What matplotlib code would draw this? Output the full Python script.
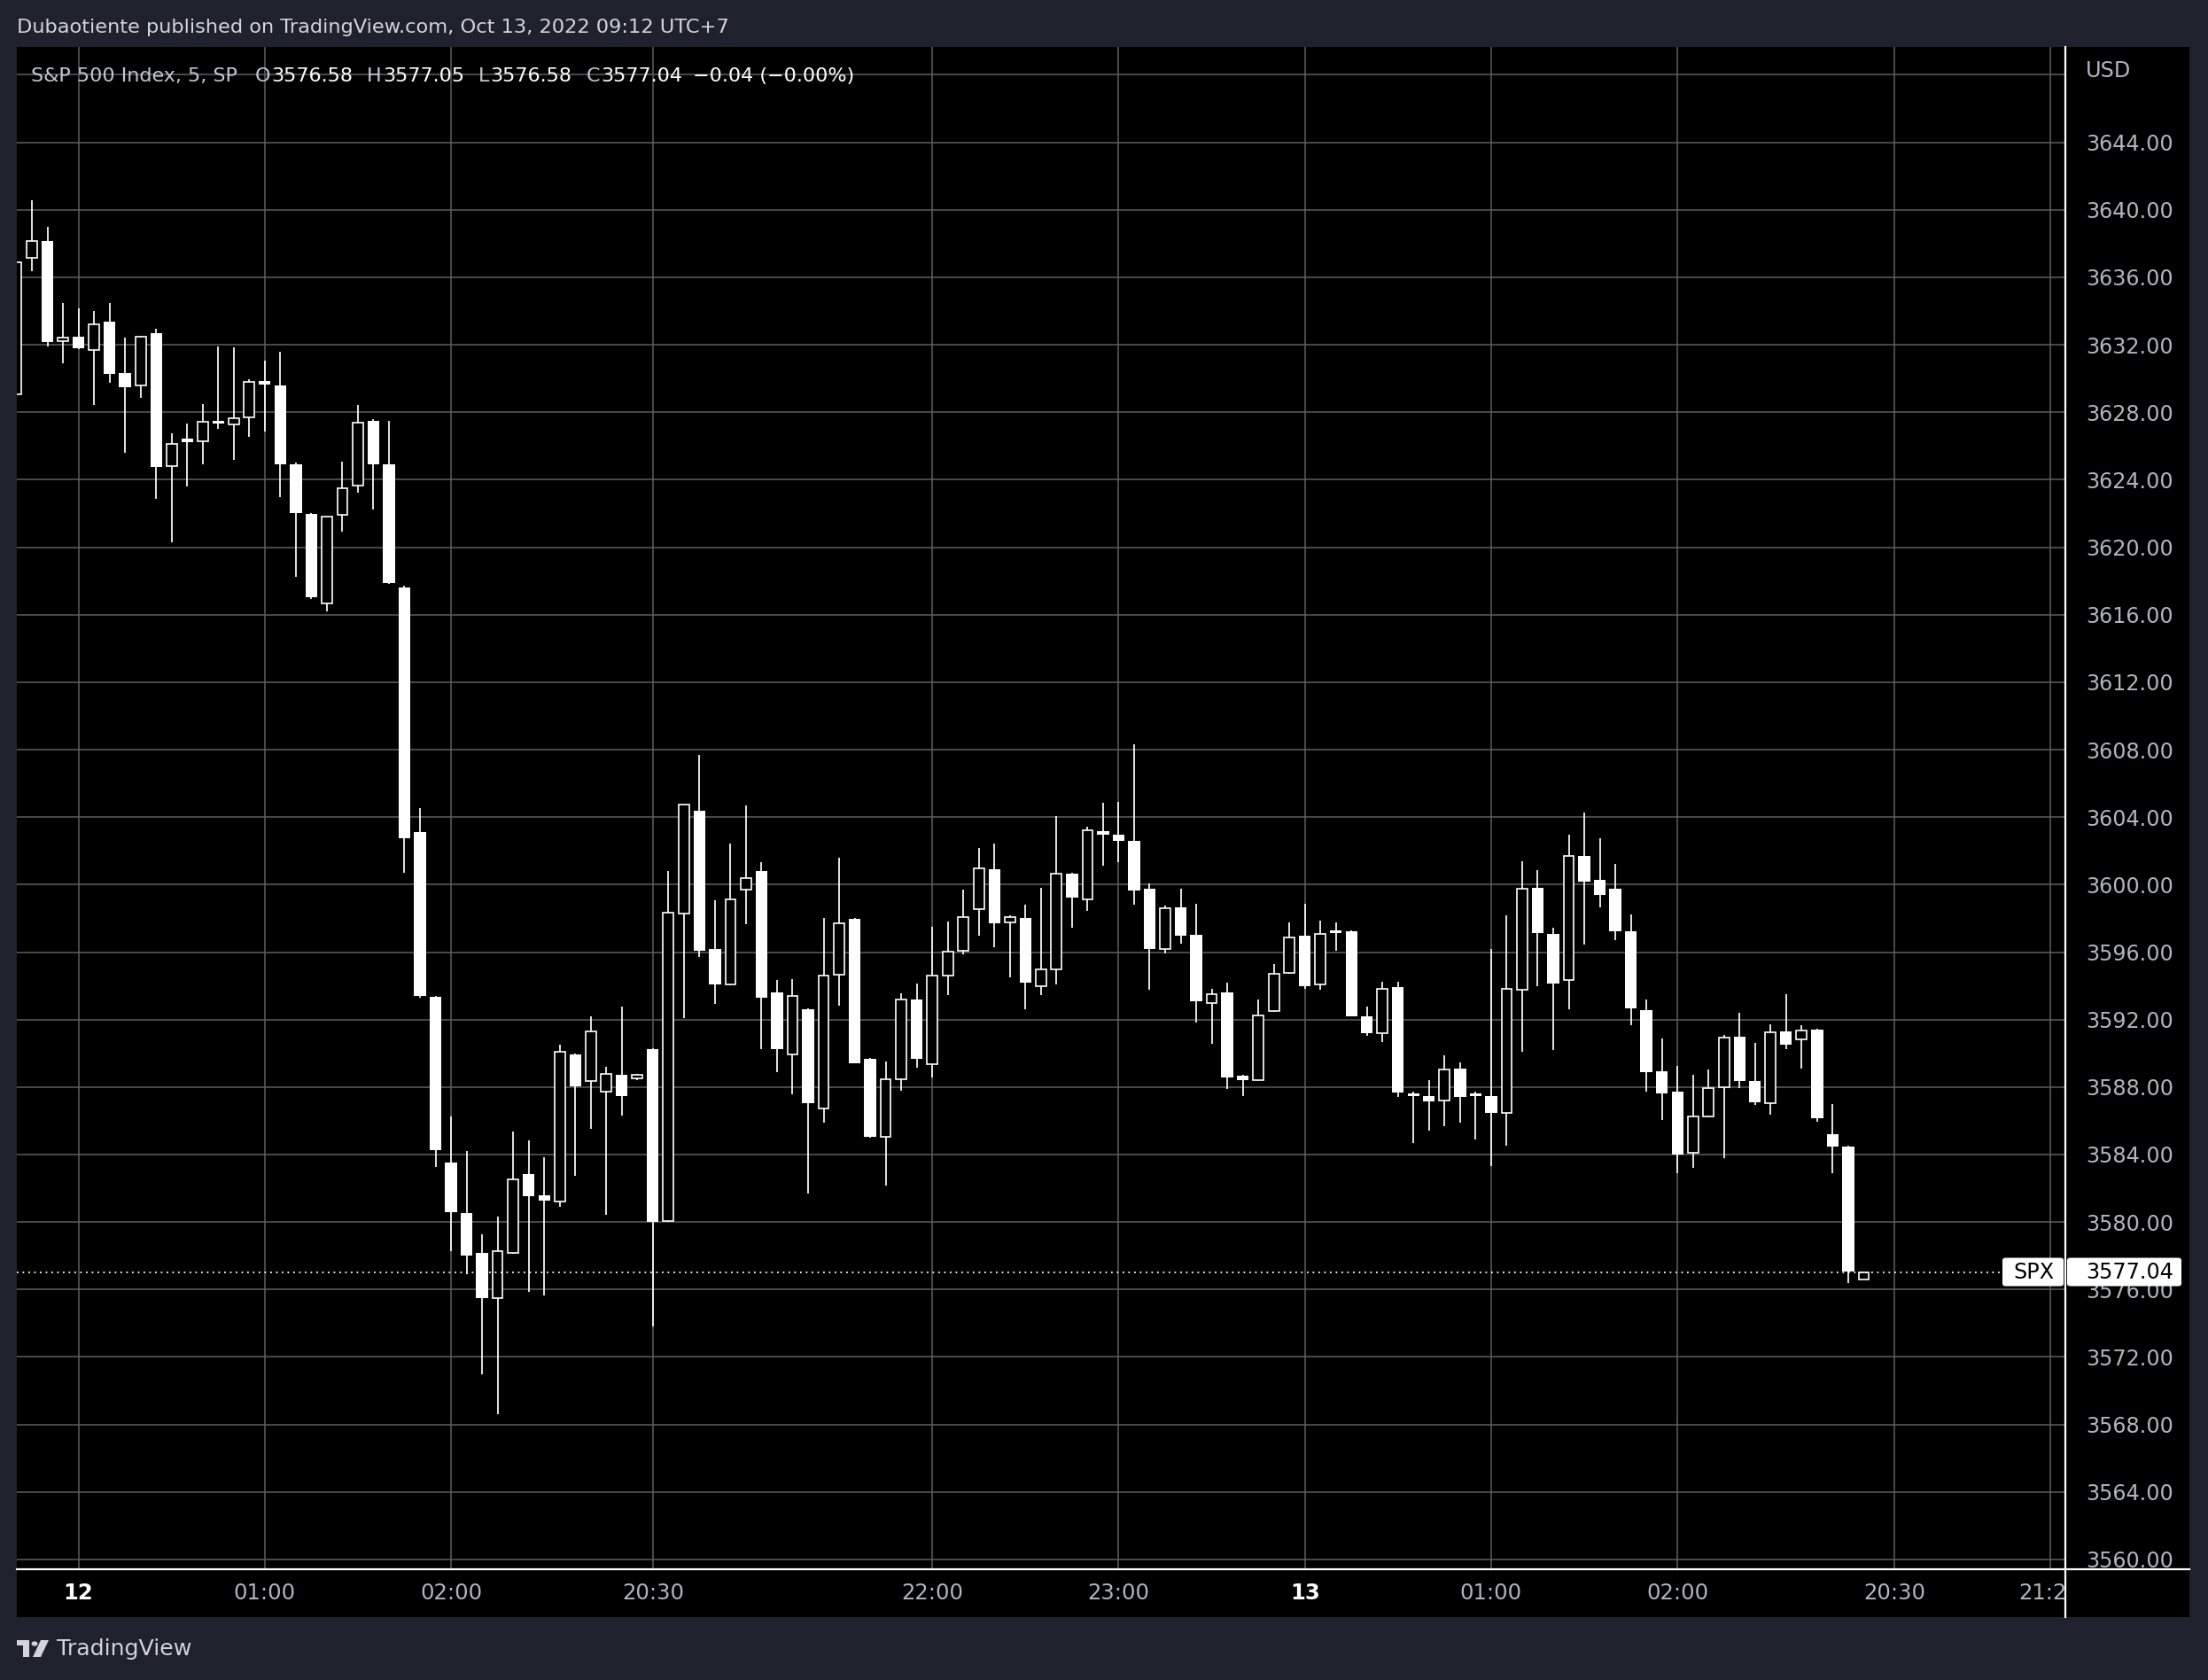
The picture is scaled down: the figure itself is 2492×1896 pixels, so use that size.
import matplotlib
matplotlib.use('Agg')
import matplotlib.pyplot as plt
import numpy as np
from matplotlib.patches import Rectangle, FancyBboxPatch, Circle, Polygon
from matplotlib.lines import Line2D
from matplotlib.transforms import Bbox, TransformedBbox

# SPX 5-minute bars, index -1 is the bar cut off at the left edge
idx = list(range(-1, 119))
opens = [3629.06, 3637.15, 3638.13, 3632.21, 3632.45, 3631.68, 3633.35, 3630.30, 3629.57, 3632.66,
         3624.82, 3626.41, 3626.29, 3627.48, 3627.27, 3627.69, 3629.85, 3629.58, 3624.91, 3621.97,
         3616.66, 3621.91, 3623.63, 3627.48, 3624.91, 3617.62, 3603.12, 3593.36, 3583.54, 3580.55,
         3578.18, 3575.47, 3578.16, 3582.85, 3581.58, 3581.19, 3589.94, 3588.35, 3587.72, 3588.74,
         3588.52, 3590.26, 3580.06, 3598.31, 3604.37, 3596.16, 3594.10, 3599.68, 3600.79, 3593.59,
         3589.94, 3592.60, 3586.73, 3594.68, 3597.95, 3589.66, 3585.05, 3588.44, 3593.17, 3589.37,
         3594.59, 3596.09, 3598.53, 3600.90, 3597.74, 3598.01, 3594.00, 3594.96, 3600.67, 3599.11,
         3603.15, 3602.95, 3602.58, 3599.75, 3596.20, 3598.67, 3597.05, 3593.00, 3593.63, 3588.66,
         3588.39, 3592.49, 3594.75, 3596.97, 3594.06, 3597.22, 3597.22, 3592.21, 3591.18, 3593.90,
         3587.62, 3587.47, 3587.19, 3589.08, 3587.52, 3587.47, 3586.46, 3593.75, 3599.82, 3597.07,
         3594.33, 3601.68, 3600.26, 3599.75, 3597.22, 3592.55, 3588.93, 3587.71, 3584.09, 3586.27,
         3587.99, 3591.01, 3588.37, 3587.06, 3591.32, 3590.84, 3591.42, 3585.23, 3584.48, 3576.58]
highs = [3637.00, 3640.56, 3638.98, 3634.45, 3634.15, 3634.00, 3634.45, 3632.40, 3632.55, 3632.96,
         3626.73, 3627.31, 3628.48, 3631.89, 3631.82, 3629.93, 3631.04, 3631.56, 3625.00, 3622.00,
         3621.80, 3625.07, 3628.43, 3627.60, 3627.48, 3617.70, 3604.54, 3593.40, 3586.27, 3584.22,
         3579.28, 3580.31, 3585.37, 3584.86, 3583.85, 3590.53, 3590.00, 3592.19, 3589.21, 3592.78,
         3588.80, 3590.30, 3600.82, 3604.72, 3607.69, 3599.06, 3602.42, 3604.68, 3601.32, 3594.32,
         3594.39, 3592.65, 3598.00, 3601.58, 3598.00, 3589.70, 3589.54, 3593.55, 3594.13, 3597.49,
         3597.80, 3599.68, 3602.16, 3602.42, 3598.20, 3598.80, 3599.80, 3604.05, 3600.70, 3603.41,
         3604.84, 3604.91, 3608.31, 3600.05, 3598.78, 3599.75, 3598.86, 3593.84, 3594.21, 3588.73,
         3593.17, 3595.27, 3597.78, 3598.86, 3597.84, 3597.78, 3597.30, 3592.76, 3594.22, 3594.22,
         3587.71, 3588.41, 3589.87, 3589.46, 3587.71, 3596.17, 3598.16, 3601.38, 3600.87, 3597.46,
         3602.96, 3604.25, 3602.73, 3601.21, 3598.23, 3593.19, 3590.88, 3589.25, 3588.72, 3589.03,
         3591.11, 3592.42, 3590.63, 3591.73, 3593.52, 3591.69, 3591.45, 3587.01, 3584.50, 3577.05]
lows = [3629.00, 3636.38, 3631.91, 3630.90, 3631.75, 3628.44, 3629.72, 3625.61, 3628.83, 3622.84,
        3620.27, 3623.61, 3624.89, 3626.99, 3625.15, 3626.52, 3626.87, 3622.98, 3618.26, 3616.95,
        3616.22, 3620.92, 3623.25, 3622.26, 3617.80, 3600.68, 3593.27, 3583.27, 3578.28, 3576.89,
        3570.99, 3568.62, 3578.10, 3575.88, 3575.66, 3580.92, 3582.75, 3585.54, 3580.43, 3586.32,
        3588.43, 3573.83, 3580.00, 3592.09, 3595.72, 3592.93, 3594.05, 3597.67, 3590.27, 3588.90,
        3587.55, 3581.67, 3585.87, 3592.80, 3589.40, 3585.00, 3582.18, 3587.77, 3589.17, 3588.59,
        3593.46, 3595.87, 3596.98, 3596.29, 3594.52, 3592.63, 3593.46, 3594.09, 3597.43, 3598.45,
        3601.10, 3601.33, 3598.80, 3593.77, 3595.93, 3596.51, 3591.84, 3590.58, 3587.90, 3587.44,
        3588.35, 3592.45, 3594.70, 3593.84, 3593.77, 3596.09, 3592.20, 3591.05, 3590.66, 3587.43,
        3584.69, 3585.41, 3585.69, 3585.91, 3584.88, 3583.30, 3584.50, 3590.07, 3593.99, 3590.21,
        3592.62, 3596.45, 3598.66, 3596.69, 3591.69, 3587.75, 3586.06, 3582.91, 3583.23, 3586.20,
        3583.81, 3587.95, 3586.95, 3586.35, 3590.26, 3589.07, 3585.93, 3582.92, 3576.41, 3576.58]
closes = [3636.90, 3638.16, 3632.17, 3632.44, 3631.81, 3633.22, 3630.25, 3629.50, 3632.49, 3624.73,
          3626.13, 3626.20, 3627.45, 3627.31, 3627.66, 3629.78, 3629.62, 3624.89, 3622.00, 3617.01,
          3621.79, 3623.51, 3627.39, 3624.89, 3617.89, 3602.74, 3593.39, 3584.24, 3580.58, 3578.03,
          3575.49, 3578.28, 3582.51, 3581.53, 3581.26, 3590.11, 3588.06, 3591.29, 3588.77, 3587.45,
          3588.74, 3579.99, 3598.33, 3604.72, 3596.07, 3594.08, 3599.15, 3600.41, 3593.28, 3590.27,
          3593.42, 3587.02, 3594.61, 3597.73, 3589.43, 3585.03, 3588.46, 3593.19, 3589.66, 3594.61,
          3596.03, 3598.09, 3600.94, 3597.71, 3598.05, 3594.19, 3595.00, 3600.67, 3599.24, 3603.22,
          3602.95, 3602.60, 3599.67, 3596.20, 3598.61, 3596.99, 3593.07, 3593.50, 3588.58, 3588.39,
          3592.26, 3594.69, 3596.87, 3593.98, 3597.08, 3597.15, 3592.21, 3591.20, 3593.84, 3587.65,
          3587.44, 3587.13, 3589.06, 3587.43, 3587.48, 3586.49, 3593.84, 3599.77, 3597.14, 3594.14,
          3601.72, 3600.18, 3599.39, 3597.22, 3592.68, 3588.89, 3587.62, 3584.00, 3586.24, 3587.93,
          3590.92, 3588.35, 3587.08, 3591.24, 3590.49, 3591.36, 3586.14, 3584.46, 3577.08, 3577.04]

price_ticks = list(range(3644, 3559, -4))
grid_prices = list(range(3560, 3649, 4))
time_pos = [3, 15, 27, 40, 58, 70, 82, 94, 106, 120]
time_labels = ['12', '01:00', '02:00', '20:30', '22:00', '23:00', '13', '01:00', '02:00', '20:30']
cut_pos, cut_label = 130, '21:20'
day_labels = ['12', '13']

W, H = 2492, 1896
bg = '#1e222d'
grid_c = '#5f5f5f'
txt_c = '#b2b5be'
fs_scale = 17.2
fs_time = 17.5


def fx(px):
    return px / W


def fy(py):
    return 1 - py / H


fig = plt.figure(figsize=(W / 100, H / 100), dpi=100, facecolor=bg)

# black chart panel (plot + both scales)
fig.patches.append(Rectangle((fx(19), fy(1825)), fx(2471) - fx(19), fy(53) - fy(1825),
                             transform=fig.transFigure, facecolor='black', edgecolor='none', zorder=-1))

ax_h = 1771 - 53
ax = fig.add_axes([fx(19), fy(1771), fx(2331) - fx(19), fy(53) - fy(1771)])
ax.set_facecolor('black')
ax.set_xlim(-0.97, 130.99)
ax.set_ylim(3559.42, 3649.65)
for s in ax.spines.values():
    s.set_visible(False)

for p in grid_prices:
    ax.axhline(p, color=grid_c, lw=1.1, zorder=1)
for k in time_pos + [cut_pos]:
    ax.axvline(k, color=grid_c, lw=1.1, zorder=1)

x = np.array(idx)
o = np.array(opens); h = np.array(highs); l = np.array(lows); c = np.array(closes)
up = c >= o
bot = np.minimum(o, c)
bh = np.maximum(np.abs(c - o), 0.15)

ax.vlines(x, l, h, color='white', lw=1.25, zorder=2)
ax.bar(x[~up], bh[~up], bottom=bot[~up], width=0.76, color='white', linewidth=0, zorder=3)
ax.bar(x[up], bh[up], bottom=bot[up], width=0.67, facecolor='black', edgecolor='white',
       linewidth=1.2, zorder=3)

# last price dotted line
ax.axhline(closes[-1], xmin=0, xmax=0.969, color='white', lw=1.3, linestyle=(0, (1, 2.6)), zorder=4)

# price scale
ax.yaxis.tick_right()
ax.set_yticks(price_ticks, [f'{p:.2f}' for p in price_ticks])
ax.tick_params(axis='y', length=0, pad=16.5, labelsize=fs_scale, labelcolor=txt_c)

# time scale
x_pad = 11
ax.set_xticks(time_pos, time_labels)
ax.tick_params(axis='x', length=0, pad=x_pad, labelsize=fs_time, labelcolor=txt_c)
for lab in ax.get_xticklabels():
    if lab.get_text() in day_labels:
        lab.set_color('white')
        lab.set_fontweight('bold')

t = ax.text(cut_pos, -(x_pad / 0.72) / ax_h, cut_label, transform=ax.get_xaxis_transform(),
            ha='center', va='top', fontsize=fs_time, color=txt_c)
t.set_clip_box(TransformedBbox(Bbox.from_extents(0, 0, fx(2331), 1), fig.transFigure))
t.set_clip_on(True)

# scale borders
fig.lines.append(Line2D([fx(19), fx(2471)], [fy(1771), fy(1771)], transform=fig.transFigure,
                        color='white', lw=1.6, zorder=4))
fig.lines.append(Line2D([fx(2331), fx(2331)], [fy(53), fy(1825)], transform=fig.transFigure,
                        color='white', lw=1.6, zorder=4))

fig.text(fx(2354), fy(80), 'USD', color=txt_c, fontsize=fs_scale, va='center', ha='left')

# last price labels
y_last = ax.transData.transform((0, closes[-1]))[1] / H
bh_fig = 32 / H
fig.patches.append(FancyBboxPatch((fx(2260), y_last - bh_fig / 2), fx(2329) - fx(2260), bh_fig,
                                  boxstyle='round,pad=0,rounding_size=0.0015', transform=fig.transFigure,
                                  facecolor='white', edgecolor='none', zorder=5))
fig.patches.append(FancyBboxPatch((fx(2333), y_last - bh_fig / 2), fx(2462) - fx(2333), bh_fig,
                                  boxstyle='round,pad=0,rounding_size=0.0015', transform=fig.transFigure,
                                  facecolor='white', edgecolor='none', zorder=5))
fig.text(fx(2295), y_last, 'SPX', color='black', fontsize=fs_scale, ha='center', va='center', zorder=6)
fig.text(fx(2354), y_last, f'{closes[-1]:.2f}', color='black', fontsize=fs_scale, ha='left',
         va='center', zorder=6)

# header
fig.text(fx(19), fy(31), 'Dubaotiente published on TradingView.com, Oct 13, 2022 09:12 UTC+7',
         color='#d1d4dc', fontsize=16.2, va='center')

# legend row, laid out piece by piece
chg = closes[-1] - closes[-2]
pct = chg / closes[-2] * 100
lab_c = '#c3c6ce'
legend = [('S&P 500 Index, 5, SP', lab_c, 20),
          ('O', lab_c, 1), (f'{opens[-1]:.2f}', 'white', 16),
          ('H', lab_c, 1), (f'{highs[-1]:.2f}', 'white', 16),
          ('L', lab_c, 1), (f'{lows[-1]:.2f}', 'white', 16),
          ('C', lab_c, 1), (f'{closes[-1]:.2f}', 'white', 12),
          (f'{chg:.2f} ({pct:.2f}%)'.replace('-', '\u2212'), 'white', 0)]
renderer = fig.canvas.get_renderer()
px = 35
for s, col, gap in legend:
    tt = fig.text(fx(px), fy(86), s, color=col, fontsize=16, va='center', ha='left', zorder=6)
    px += tt.get_window_extent(renderer).width + gap

# footer logo
logo_c = '#d1d4dc'
fig.patches.append(Rectangle((fx(19), fy(1857)), fx(33) - fx(19), 6 / H, transform=fig.transFigure,
                             facecolor=logo_c, edgecolor='none'))
fig.patches.append(Rectangle((fx(26), fy(1870)), fx(33) - fx(26), 19 / H, transform=fig.transFigure,
                             facecolor=logo_c, edgecolor='none'))
fig.patches.append(Circle((fx(39), fy(1855)), 3.5 / W, transform=fig.transFigure,
                          facecolor=logo_c, edgecolor='none'))
fig.patches.append(Polygon([(fx(46), fy(1851)), (fx(55), fy(1851)), (fx(46), fy(1870)), (fx(37), fy(1870))],
                           transform=fig.transFigure, facecolor=logo_c, edgecolor='none'))
fig.text(fx(64), fy(1861), 'TradingView', color=logo_c, fontsize=18.2, va='center', ha='left')

fig.savefig('out.png', dpi=100, facecolor=bg)
